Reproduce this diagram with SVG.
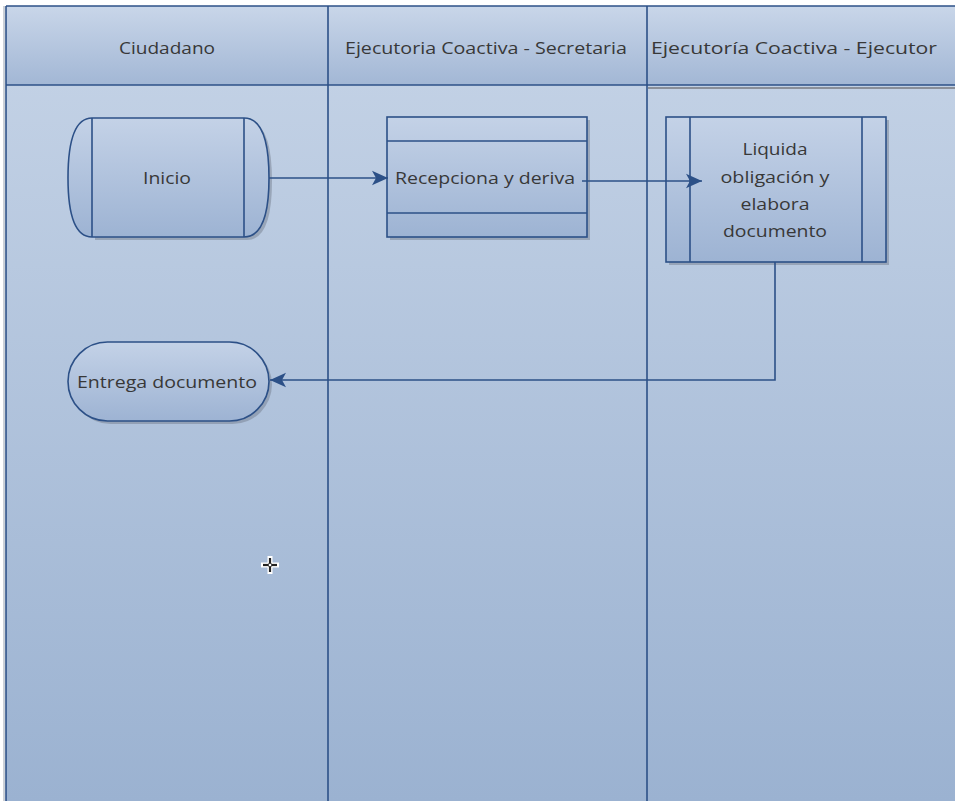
<svg xmlns="http://www.w3.org/2000/svg" width="955" height="801" viewBox="0 0 955 801">
<style>
.ln{stroke:#2c5087;stroke-width:1.6;fill:none}
.shape{fill:url(#sg);stroke:#2c5087;stroke-width:1.6}
.txt{font-family:"Open Sans","Liberation Sans",Arial,sans-serif;font-size:17px;fill:#383838;text-anchor:middle}
.hdr{font-family:"Open Sans","Liberation Sans",Arial,sans-serif;font-size:16.5px;fill:#383838;text-anchor:middle}
.conn{stroke:#2c5087;stroke-width:1.6;fill:none;marker-end:url(#ah)}
.shd{fill:#6f7887;opacity:0.45}
</style>
<defs>
<linearGradient id="bg" x1="0" y1="0" x2="0" y2="1">
<stop offset="0" stop-color="#c6d4e7"/><stop offset="1" stop-color="#9bb2d1"/>
</linearGradient>
<linearGradient id="hg" x1="0" y1="0" x2="0" y2="1">
<stop offset="0" stop-color="#c9d6e9"/><stop offset="1" stop-color="#a2b7d5"/>
</linearGradient>
<linearGradient id="sg" x1="0" y1="0" x2="0" y2="1">
<stop offset="0" stop-color="#c4d2e7"/><stop offset="1" stop-color="#9db3d3"/>
</linearGradient>
<marker id="ah" viewBox="0 0 10 10" refX="10" refY="5" markerWidth="16" markerHeight="16" markerUnits="userSpaceOnUse" orient="auto">
<path d="M0,0.5 L10,5 L0,9.5 L2.5,5 Z" fill="#2c5087"/>
</marker>
</defs>
<rect x="0" y="0" width="955" height="801" fill="#ffffff"/>
<rect x="6" y="6" width="949" height="795" fill="url(#bg)"/>
<g id="lanes">
<rect x="6" y="6" width="949" height="79" fill="url(#hg)"/>
<line x1="648" y1="88" x2="955" y2="88" stroke="#8a8f99" stroke-width="2"/>
<line class="ln" x1="6" y1="6" x2="955" y2="6"/>
<line class="ln" x1="6" y1="85" x2="955" y2="85"/>
<line class="ln" x1="6" y1="6" x2="6" y2="801"/>
<line x1="4" y1="6" x2="4" y2="801" stroke="#9aa3b0" stroke-width="1"/>
<line class="ln" x1="328" y1="6" x2="328" y2="801"/>
<line class="ln" x1="647" y1="6" x2="647" y2="801"/>
<text class="hdr" x="167" y="54" textLength="96" lengthAdjust="spacingAndGlyphs">Ciudadano</text>
<text class="hdr" x="486" y="54" textLength="282" lengthAdjust="spacingAndGlyphs">Ejecutoria Coactiva - Secretaria</text>
<text class="hdr" x="794" y="54" textLength="286" lengthAdjust="spacingAndGlyphs">Ejecutoría Coactiva - Ejecutor</text>
</g>
<g id="inicio">
<path class="shd" d="M95,121 L247,121 Q272,121 272,181 Q272,240 247,240 L95,240 Z"/>
<path class="shape" d="M92,118 L244,118 Q269,118 269,178 Q269,237 244,237 L92,237 Q68,237 68,178 Q68,118 92,118 Z"/>
<line class="ln" x1="92" y1="118" x2="92" y2="237"/>
<line class="ln" x1="244" y1="118" x2="244" y2="237"/>
<text class="txt" x="167" y="184" textLength="48" lengthAdjust="spacingAndGlyphs">Inicio</text>
</g>
<g id="recepciona">
<rect class="shd" x="390" y="120" width="200" height="120"/>
<rect class="shape" x="387" y="117" width="200" height="120"/>
<line class="ln" x1="387" y1="141" x2="587" y2="141"/>
<line class="ln" x1="387" y1="213" x2="587" y2="213"/>
<text class="txt" x="485" y="184" textLength="180" lengthAdjust="spacingAndGlyphs">Recepciona y deriva</text>
</g>
<g id="liquida">
<rect class="shd" x="669" y="120" width="220" height="145"/>
<rect class="shape" x="666" y="117" width="220" height="145"/>
<line class="ln" x1="690" y1="117" x2="690" y2="262"/>
<line class="ln" x1="862" y1="117" x2="862" y2="262"/>
<text class="txt" x="775" y="155" textLength="65" lengthAdjust="spacingAndGlyphs">Liquida</text>
<text class="txt" x="775" y="183" textLength="109" lengthAdjust="spacingAndGlyphs">obligación y</text>
<text class="txt" x="775" y="210" textLength="69" lengthAdjust="spacingAndGlyphs">elabora</text>
<text class="txt" x="775" y="237" textLength="104" lengthAdjust="spacingAndGlyphs">documento</text>
</g>
<g id="entrega">
<rect class="shd" x="71" y="345" width="201" height="79" rx="39.5"/>
<rect class="shape" x="68" y="342" width="201" height="79" rx="39.5"/>
<text class="txt" x="167" y="388" textLength="180" lengthAdjust="spacingAndGlyphs">Entrega documento</text>
</g>
<g id="connectors">
<line class="conn" x1="269" y1="178" x2="388" y2="178"/>
<line class="conn" x1="582" y1="181" x2="702" y2="181"/>
<polyline class="conn" points="775,262 775,380 270,380"/>
</g>
<g id="cursor">
<line x1="270" y1="556" x2="270" y2="574" stroke="#ffffff" stroke-width="5"/>
<line x1="261" y1="565" x2="279" y2="565" stroke="#ffffff" stroke-width="5"/>
<line x1="270" y1="558" x2="270" y2="572" stroke="#222" stroke-width="2.2"/>
<line x1="263" y1="565" x2="277" y2="565" stroke="#222" stroke-width="2.2"/>
<circle cx="270" cy="565" r="1.8" fill="#ffffff" stroke="#222" stroke-width="0.8"/>
</g>
</svg>
